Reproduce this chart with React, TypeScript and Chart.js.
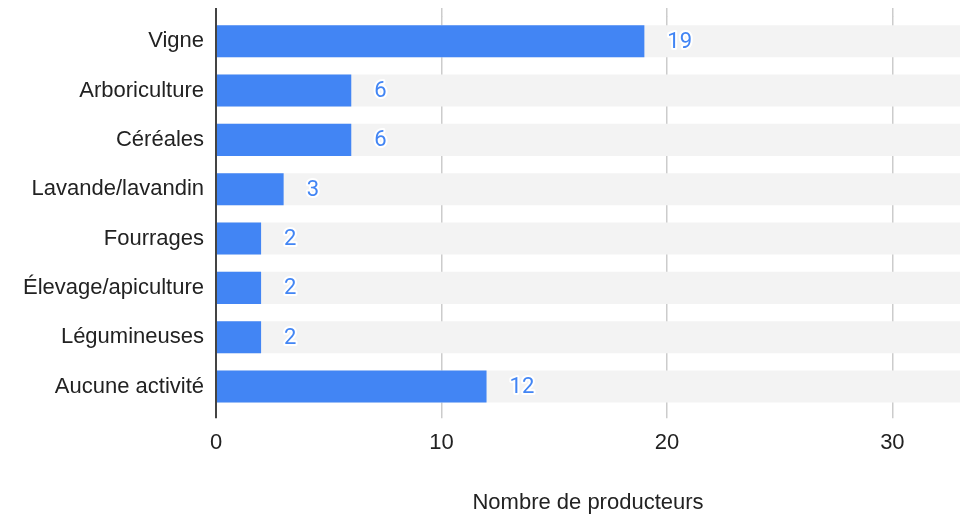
import React, { useEffect, useRef } from "react";
import { Chart, registerables } from "chart.js";

Chart.register(...registerables);

const categories = [
  "Vigne",
  "Arboriculture",
  "Céréales",
  "Lavande/lavandin",
  "Fourrages",
  "Élevage/apiculture",
  "Légumineuses",
  "Aucune activité",
];
const producteurs = [19, 6, 6, 3, 2, 2, 2, 12];
const track = [33, 33, 33, 33, 33, 33, 33, 33];
const xTicks = [0, 10, 20, 30];
const xMax = 33;
const xTitle = "Nombre de producteurs";

const FONT = "'Liberation Sans', Arial, sans-serif";
const BLUE = "#4285F4";
const GRID = "#cccccc";
const AXIS = "#444444";

const gridColor = (ctx: any) => (ctx.tick && ctx.tick.value === 0 ? AXIS : GRID);
const gridWidth = (ctx: any) => (ctx.tick && ctx.tick.value === 0 ? 2 : 1.5);
const setTicks = (scale: any) => {
  scale.ticks = xTicks.map((v) => ({ value: v }));
};

const valueLabels = {
  id: "valueLabels",
  afterDatasetsDraw(chart: any) {
    const meta = chart.getDatasetMeta(0);
    const ctx = chart.ctx;
    ctx.save();
    ctx.font = `22px Roboto, 'Liberation Sans', sans-serif`;
    ctx.textAlign = "left";
    ctx.textBaseline = "middle";
    ctx.lineJoin = "round";
    meta.data.forEach((bar: any, i: number) => {
      const text = String(producteurs[i]);
      const x = bar.x + 23;
      const y = bar.y + 1;
      ctx.strokeStyle = "#ffffff";
      ctx.lineWidth = 4;
      ctx.strokeText(text, x, y);
      ctx.fillStyle = BLUE;
      ctx.fillText(text, x, y);
    });
    ctx.restore();
  },
};

export default function App() {
  const ref = useRef<HTMLCanvasElement | null>(null);

  useEffect(() => {
    document.body.style.margin = "0";
    if (!ref.current) return;
    const chart = new Chart(ref.current, {
      type: "bar",
      data: {
        labels: categories,
        datasets: [
          {
            label: "Producteurs",
            data: producteurs,
            backgroundColor: BLUE,
            borderWidth: 0,
            grouped: false,
            order: 0,
            barPercentage: 0.65,
            categoryPercentage: 1,
          },
          {
            label: "track",
            data: track,
            backgroundColor: "#f3f3f3",
            borderWidth: 0,
            grouped: false,
            order: 1,
            barPercentage: 0.65,
            categoryPercentage: 1,
          },
        ],
      },
      options: {
        indexAxis: "y",
        animation: false,
        responsive: true,
        maintainAspectRatio: false,
        layout: { padding: { top: 8, right: 1, bottom: 0, left: 0 } },
        plugins: {
          legend: { display: false },
          tooltip: { enabled: false },
        },
        scales: {
          x: {
            type: "linear",
            position: "bottom",
            min: 0,
            max: xMax,
            afterBuildTicks: setTicks,
            border: { display: false },
            grid: {
              color: gridColor,
              lineWidth: gridWidth,
              drawTicks: true,
              tickLength: 7,
            },
            ticks: {
              color: "#222222",
              font: { family: FONT, size: 22 },
              padding: 11.5,
              maxRotation: 0,
            },
            title: {
              display: true,
              text: xTitle,
              color: "#222222",
              font: { family: FONT, size: 22 },
              padding: { top: 22, bottom: 1 },
            },
          },
          x2: {
            type: "linear",
            position: "top",
            min: 0,
            max: xMax,
            afterBuildTicks: setTicks,
            afterFit: (scale: any) => {
              scale.height = 8.5;
            },
            border: { display: false },
            grid: {
              color: gridColor,
              lineWidth: gridWidth,
              drawOnChartArea: false,
              drawTicks: true,
              tickLength: 8.5,
            },
            ticks: { display: false },
          },
          y: {
            type: "category",
            position: "left",
            afterFit: (scale: any) => {
              scale.width = 216;
              scale.paddingTop = 0;
              scale.paddingBottom = 0;
            },
            border: { display: true, color: AXIS, width: 2 },
            grid: { display: false, drawTicks: false },
            ticks: {
              color: "#222222",
              font: { family: FONT, size: 22 },
              padding: 12,
            },
          },
        },
      },
      plugins: [valueLabels],
    });
    return () => chart.destroy();
  }, []);

  return (
    <div style={{ width: 961, height: 517, position: "relative" }}>
      <canvas ref={ref} />
    </div>
  );
}
